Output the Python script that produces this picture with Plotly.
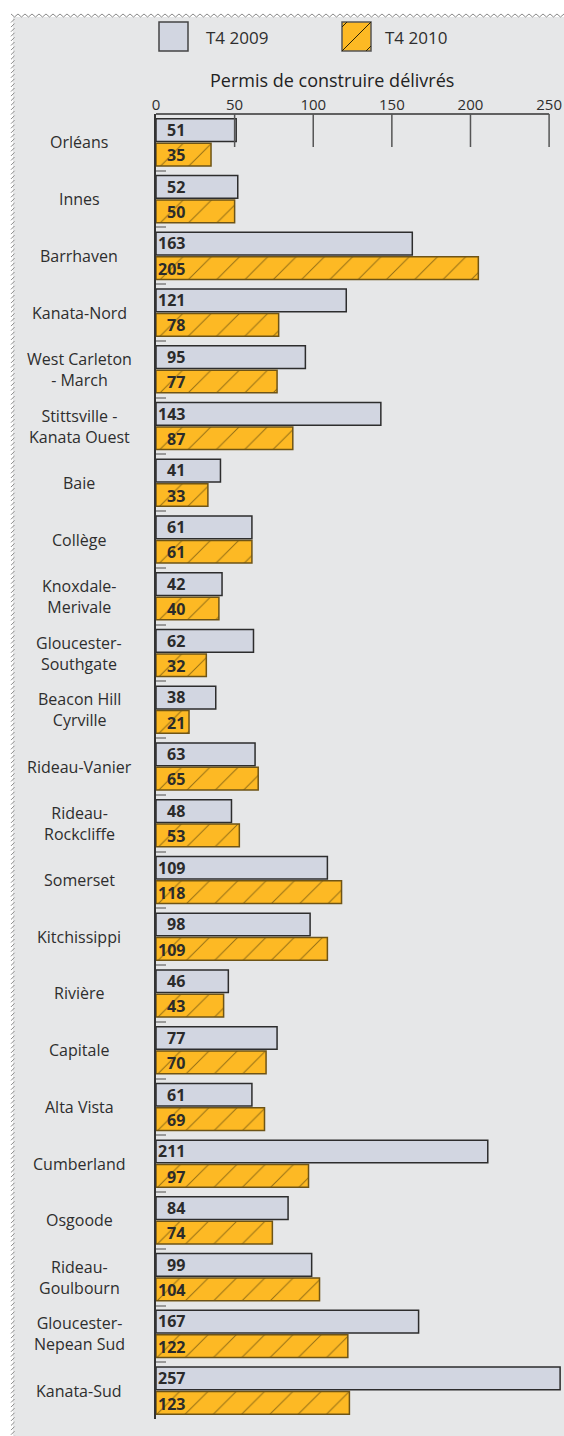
import plotly.graph_objects as go

# Quartiers (in display order, top to bottom)
districts = [
    "Orléans", "Innes", "Barrhaven", "Kanata-Nord", "West Carleton<br>- March",
    "Stittsville -<br>Kanata Ouest", "Baie", "Collège", "Knoxdale-<br>Merivale",
    "Gloucester-<br>Southgate", "Beacon Hill<br>Cyrville", "Rideau-Vanier",
    "Rideau-<br>Rockcliffe", "Somerset", "Kitchissippi", "Rivière", "Capitale",
    "Alta Vista", "Cumberland", "Osgoode", "Rideau-<br>Goulbourn",
    "Gloucester-<br>Nepean Sud", "Kanata-Sud",
]
q4_2009 = [51, 52, 163, 121, 95, 143, 41, 61, 42, 62, 38, 63, 48, 109, 98, 46, 77, 61, 211, 84, 99, 167, 257]
q4_2010 = [35, 50, 205, 78, 77, 87, 33, 61, 40, 32, 21, 65, 53, 118, 109, 43, 70, 69, 97, 74, 104, 122, 123]
series_names = ["T4 2009", "T4 2010"]
x_ticks = [0, 50, 100, 150, 200, 250]
axis_title = "Permis de construire délivrés"

W, H = 564, 1436
L, R, T, B = 156, 0, 114, 17
PW, PH = W - L - R, H - T - B
PX_PER_UNIT = 1.5724
X_MAX = PW / PX_PER_UNIT

FONT = "Open Sans"
TXT = "#2e2e2e"
C2009, C2010 = "#d2d6e1", "#fdb924"
PANEL = "#e6e7e8"


def px2x(px):
    return (px - L) / PW


def py2y(py):
    return 1 - (py - T) / PH


fig = go.Figure()
fig.add_trace(go.Bar(
    y=districts, x=q4_2009, orientation="h", name=series_names[0],
    marker=dict(color=C2009, line=dict(color="#2d2d2d", width=1.5)),
    hoverinfo="x+y",
))
fig.add_trace(go.Bar(
    y=districts, x=q4_2010, orientation="h", name=series_names[1],
    marker=dict(color=C2010, line=dict(color="#6e5416", width=1.5),
                pattern=dict(shape="/", size=20, solidity=0.05,
                             fgcolor="#2a2208", bgcolor=C2010)),
    hoverinfo="x+y",
))

shapes = []
annotations = []

# background panel with decorative border
shapes.append(dict(type="rect", xref="paper", yref="paper", layer="below",
                   x0=px2x(13), x1=px2x(W), y0=py2y(17), y1=py2y(H),
                   fillcolor=PANEL, line=dict(width=0)))
zig = []
x = 11.0
up = True
while x <= W:
    zig.append(f"{px2x(x):.5f},{py2y(14 if up else 17):.5f}")
    x += 3.5
    up = not up
shapes.append(dict(type="path", xref="paper", yref="paper", layer="below",
                   path="M" + " L".join(zig), line=dict(color="#8a8a8a", width=1)))
sl = []
y = 19.0
while y < H:
    sl.append(f"M{px2x(11):.5f},{py2y(y + 3.5):.5f} L{px2x(14.5):.5f},{py2y(y):.5f}")
    y += 4.6
shapes.append(dict(type="path", xref="paper", yref="paper", layer="below",
                   path=" ".join(sl), line=dict(color="#8a8a8a", width=1)))

# top axis line and short tick lines
shapes.append(dict(type="line", xref="x", yref="paper", x0=0, x1=x_ticks[-1],
                   y0=1, y1=1, line=dict(color="#333333", width=1.5)))
for t in x_ticks[1:]:
    shapes.append(dict(type="line", xref="x", yref="paper", x0=t, x1=t,
                       y0=1, y1=py2y(147), line=dict(color="#555555", width=1.5)))

# manual legend
shapes.append(dict(type="rect", xref="paper", yref="paper",
                   x0=px2x(159), x1=px2x(188), y0=py2y(51), y1=py2y(22),
                   fillcolor=C2009, line=dict(color="#444444", width=1.5)))
shapes.append(dict(type="rect", xref="paper", yref="paper",
                   x0=px2x(342), x1=px2x(371), y0=py2y(51), y1=py2y(22),
                   fillcolor=C2010, line=dict(color="#555555", width=1.5)))
for (a, b, c, d) in [(342, 51, 371, 22), (342, 27, 347, 22), (366, 51, 371, 46)]:
    shapes.append(dict(type="line", xref="paper", yref="paper",
                       x0=px2x(a), y0=py2y(b), x1=px2x(c), y1=py2y(d),
                       line=dict(color="#2a2208", width=1)))
for name, lx in zip(series_names, [204, 383]):
    annotations.append(dict(xref="paper", yref="paper", x=px2x(lx), y=py2y(38),
                            xanchor="left", yanchor="middle", showarrow=False,
                            text=name, font=dict(family=FONT, size=17, color=TXT)))

# axis title
annotations.append(dict(xref="paper", yref="paper", x=px2x(332), y=py2y(80),
                        xanchor="center", yanchor="middle", showarrow=False,
                        text=axis_title, font=dict(family=FONT, size=18, color="#222222")))

# category labels
for d in districts:
    annotations.append(dict(xref="paper", yref="y", x=px2x(79), y=d,
                            xanchor="center", yanchor="middle", showarrow=False,
                            align="center", text=d,
                            font=dict(family=FONT, size=16, color=TXT)))

# value labels inside bars
for d, v1, v2 in zip(districts, q4_2009, q4_2010):
    for v, ys in ((v1, 12.4), (v2, -12.9)):
        annotations.append(dict(xref="x", yref="y", x=0, y=d, xshift=31, yshift=ys,
                                xanchor="right", yanchor="middle", showarrow=False,
                                text=f"<b>{v}</b>",
                                font=dict(family=FONT, size=16, color="#2b2b2b")))

fig.update_layout(
    width=W, height=H,
    margin=dict(l=L, r=R, t=T, b=B, pad=0),
    paper_bgcolor="white", plot_bgcolor="rgba(0,0,0,0)",
    barmode="group", bargap=0.14, bargroupgap=0.07,
    showlegend=False,
    shapes=shapes, annotations=annotations,
    font=dict(family=FONT, color=TXT),
    xaxis=dict(side="top", range=[0, X_MAX], tickvals=x_ticks,
               ticktext=[str(t) for t in x_ticks],
               showgrid=False, zeroline=False, showline=False, ticks="",
               tickfont=dict(family=FONT, size=15, color=TXT), fixedrange=True),
    yaxis=dict(range=[len(districts) - 0.5, -0.5], showticklabels=False,
               showgrid=False, zeroline=False, showline=True,
               linecolor="#333333", linewidth=1.5,
               ticks="inside", tickson="boundaries", ticklen=10,
               tickcolor="#9a9a9a", tickwidth=2, fixedrange=True),
)

fig.write_html("out.html")
